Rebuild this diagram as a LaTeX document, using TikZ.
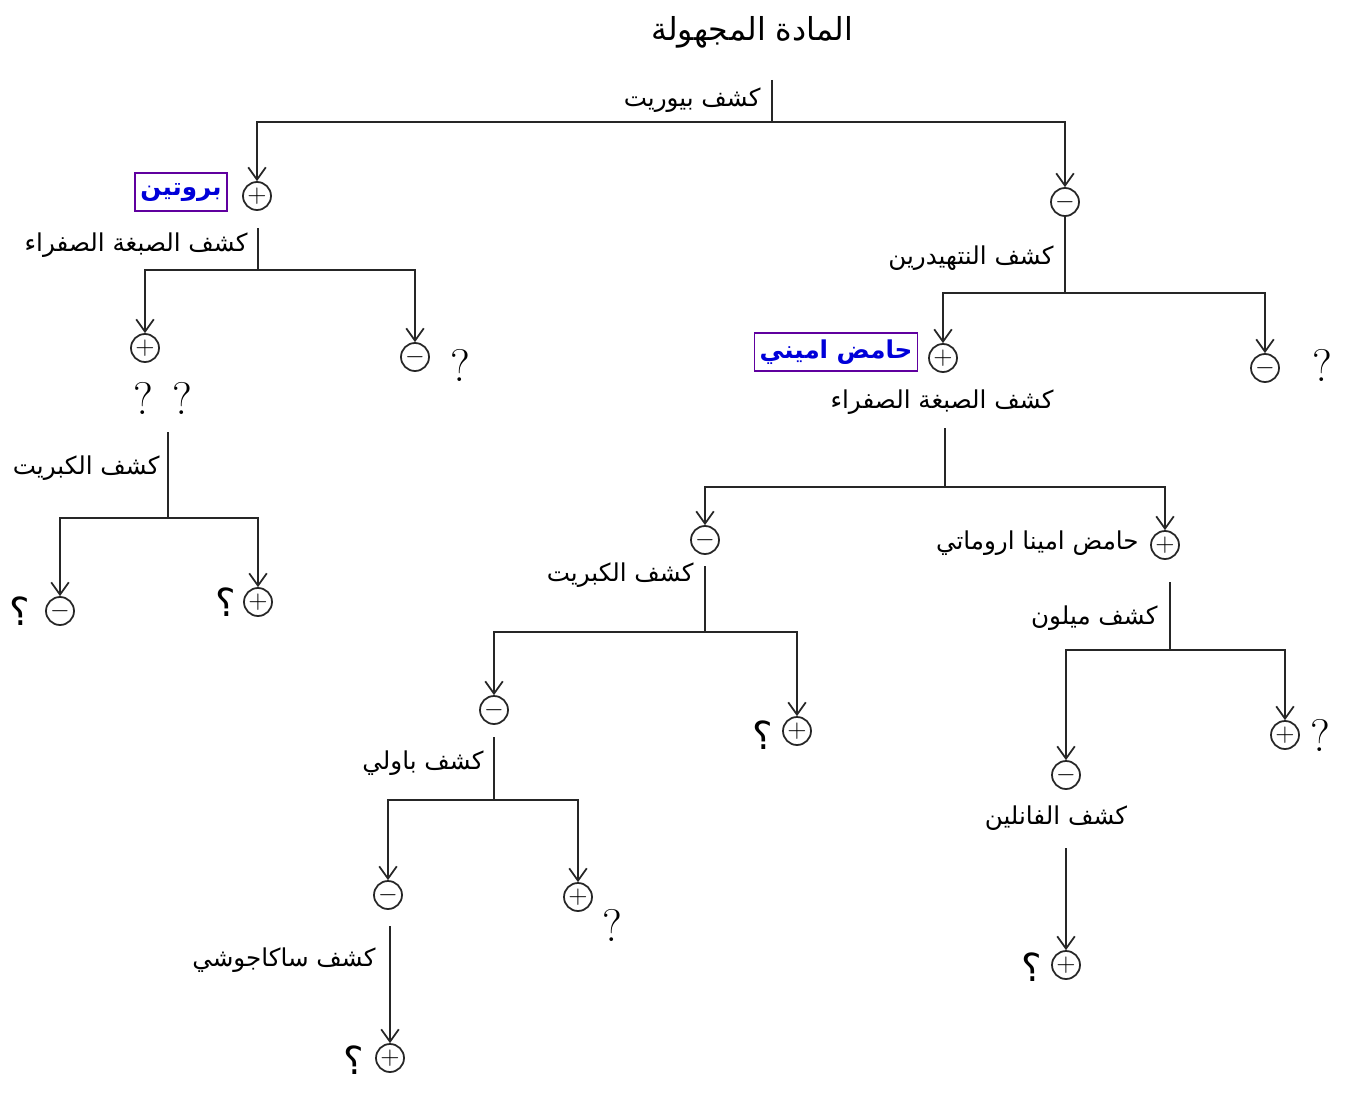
\documentclass[tikz,border=0pt]{standalone}
\usepackage{fontspec}
\usetikzlibrary{arrows.meta}
\newfontfamily\arabicfont[Script=Arabic]{DejaVu Sans}
\TeXXeTstate=1
\newcommand{\artxt}[1]{{\arabicfont\beginR #1\endR}}

\begin{document}
\begin{tikzpicture}[x=0.02cm,y=-0.02cm,line width=1pt,draw=black!85,
    >={Straight Barb[length=7pt,width=10pt]},
    sign/.style={circle,draw,minimum size=0.56cm,inner sep=0pt,font=\Large},
    testlabel/.style={font=\fontsize{14}{16}\selectfont,inner sep=2pt},
    query/.style={font=\fontsize{26}{28}\selectfont,inner sep=0pt},
    arquery/.style={font=\arabicfont\fontsize{22}{24}\selectfont,inner sep=0pt},
    answer/.style={draw=violet!75!blue,line width=0.8pt,text=blue!85!black,
      font=\bfseries\fontsize{14}{16}\selectfont,inner sep=3pt,minimum height=0.76cm}]
      \useasboundingbox (0,0) rectangle (1353,1095);
      \node[font=\fontsize{18}{20}\selectfont] (title) at (752,32) {\artxt{المادة المجهولة}};
      % biuret
      \coordinate (s0) at (772,80);
      \coordinate (j0) at (772,122);
      \node[sign] (p1) at (257,196) {$+$};
      \node[sign] (n1) at (1065,202) {$-$};
      \draw (s0) -- (j0);
      \draw[->] (j0) -| (p1);
      \draw[->] (j0) -| (n1);
      \node[testlabel,anchor=east] (biuret) at (765,100) {\artxt{كشف بيوريت}};
      \node[answer,minimum width=1.52cm] (protein) at (181,192) {\artxt{بروتين}};
      % xanthoproteic, protein side
      \coordinate (s1) at (258,228);
      \coordinate (j1) at (258,270);
      \node[sign] (p2) at (145,348) {$+$};
      \node[sign] (n2) at (415,357) {$-$};
      \draw (s1) -- (j1);
      \draw[->] (j1) -| (p2);
      \draw[->] (j1) -| (n2);
      \node[testlabel,anchor=east] (xantho1) at (252,245) {\artxt{كشف الصبغة الصفراء}};
      \node[query] (q1) at (460,365) {?};
      \node[query] (q2) at (143,398) {?};
      \node[query] (q3) at (182,398) {?};
      % sulfur, protein side
      \coordinate (s2) at (168,432);
      \coordinate (j2) at (168,518);
      \node[sign] (n3) at (60,611) {$-$};
      \node[sign] (p3) at (258,602) {$+$};
      \draw (s2) -- (j2);
      \draw[->] (j2) -| (n3);
      \draw[->] (j2) -| (p3);
      \node[testlabel,anchor=east] (sulfur1) at (164,468) {\artxt{كشف الكبريت}};
      \node[arquery] (q4) at (20,611) {؟};
      \node[arquery] (q5) at (226,602) {؟};
      % ninhydrin
      \coordinate (j3) at (1065,293);
      \node[sign] (p4) at (943,358) {$+$};
      \node[sign] (n4) at (1265,368) {$-$};
      \draw (n1) -- (j3);
      \draw[->] (j3) -| (p4);
      \draw[->] (j3) -| (n4);
      \node[testlabel,anchor=east] (ninhyd) at (1058,258) {\artxt{كشف النتهيدرين}};
      \node[query] (q6) at (1322,365) {?};
      \node[answer,minimum width=2.44cm] (amino) at (836,352) {\artxt{حامض اميني}};
      % xanthoproteic, amino acid side
      \node[testlabel] (xantho2) at (942,402) {\artxt{كشف الصبغة الصفراء}};
      \coordinate (s4) at (945,428);
      \coordinate (j4) at (945,487);
      \node[sign] (n5) at (705,540) {$-$};
      \node[sign] (p5) at (1165,545) {$+$};
      \draw (s4) -- (j4);
      \draw[->] (j4) -| (n5);
      \draw[->] (j4) -| (p5);
      \node[testlabel,anchor=east] (aromatic) at (1143,543) {\artxt{حامض امينا اروماتي}};
      % millon
      \coordinate (s5) at (1170,582);
      \coordinate (j5) at (1170,650);
      \node[sign] (n7) at (1066,775) {$-$};
      \node[sign] (p7) at (1285,735) {$+$};
      \draw (s5) -- (j5);
      \draw[->] (j5) -| (n7);
      \draw[->] (j5) -| (p7);
      \node[testlabel,anchor=east] (millon) at (1162,618) {\artxt{كشف ميلون}};
      \node[query] (q7) at (1320,735) {?};
      % vanillin
      \node[testlabel] (vanillin) at (1056,818) {\artxt{كشف الفانلين}};
      \coordinate (s8) at (1066,848);
      \node[sign] (p8) at (1066,965) {$+$};
      \draw[->] (s8) -- (p8);
      \node[arquery] (q8) at (1032,967) {؟};
      % sulfur, amino acid side
      \coordinate (s6) at (705,566);
      \coordinate (j6) at (705,632);
      \node[sign] (n6) at (494,710) {$-$};
      \node[sign] (p6) at (797,731) {$+$};
      \draw (s6) -- (j6);
      \draw[->] (j6) -| (n6);
      \draw[->] (j6) -| (p6);
      \node[testlabel,anchor=east] (sulfur2) at (698,575) {\artxt{كشف الكبريت}};
      \node[arquery] (q9) at (763,735) {؟};
      % pauly
      \coordinate (s7) at (494,737);
      \coordinate (j7) at (494,800);
      \node[sign] (n8) at (388,895) {$-$};
      \node[sign] (p9) at (578,897) {$+$};
      \draw (s7) -- (j7);
      \draw[->] (j7) -| (n8);
      \draw[->] (j7) -| (p9);
      \node[testlabel,anchor=east] (pauly) at (488,763) {\artxt{كشف باولي}};
      \node[query] (q10) at (612,925) {?};
      % sakaguchi
      \coordinate (s9) at (390,926);
      \node[sign] (p10) at (390,1058) {$+$};
      \draw[->] (s9) -- (p10);
      \node[testlabel,anchor=east] (sakaguchi) at (380,960) {\artxt{كشف ساكاجوشي}};
      \node[arquery] (q11) at (354,1060) {؟};
\end{tikzpicture}
\end{document}
